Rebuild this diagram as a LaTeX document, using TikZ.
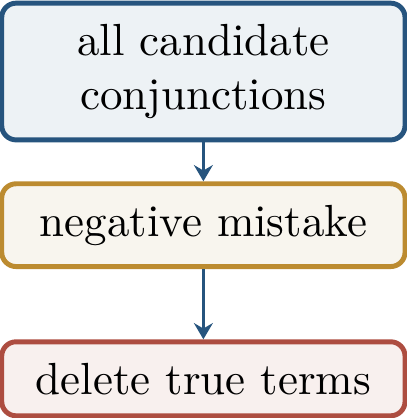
\documentclass[tikz,border=0pt]{standalone}
\usetikzlibrary{arrows.meta}
\definecolor{candline}{RGB}{38,84,126}
\definecolor{candfill}{RGB}{237,242,245}
\definecolor{negline}{RGB}{188,139,48}
\definecolor{negfill}{RGB}{248,245,238}
\definecolor{delline}{RGB}{173,77,64}
\definecolor{delfill}{RGB}{248,240,238}
\begin{document}
\begin{tikzpicture}[
  stagebox/.style={draw=#1line,fill=#1fill,line width=1.1pt,rounded corners=3.2pt,
    text width=2.82cm,align=center,inner sep=4.7pt},
  flow/.style={draw=candline,line width=0.75pt,-{Stealth[length=3.6pt,width=4.2pt,inset=1.2pt]}}]
\useasboundingbox (-45.2pt,15.9pt) rectangle (45.2pt,-77pt);
\node[stagebox=cand] (cand) at (0,0) {all candidate\\conjunctions};
\node[stagebox=neg] (neg) at (0,-1.2) {negative mistake};
\node[stagebox=del] (del) at (0,-2.4) {delete true terms};
\foreach \a/\b in {cand/neg,neg/del}{
  \draw[flow] (\a) -- (\b);
}
\end{tikzpicture}
\end{document}
